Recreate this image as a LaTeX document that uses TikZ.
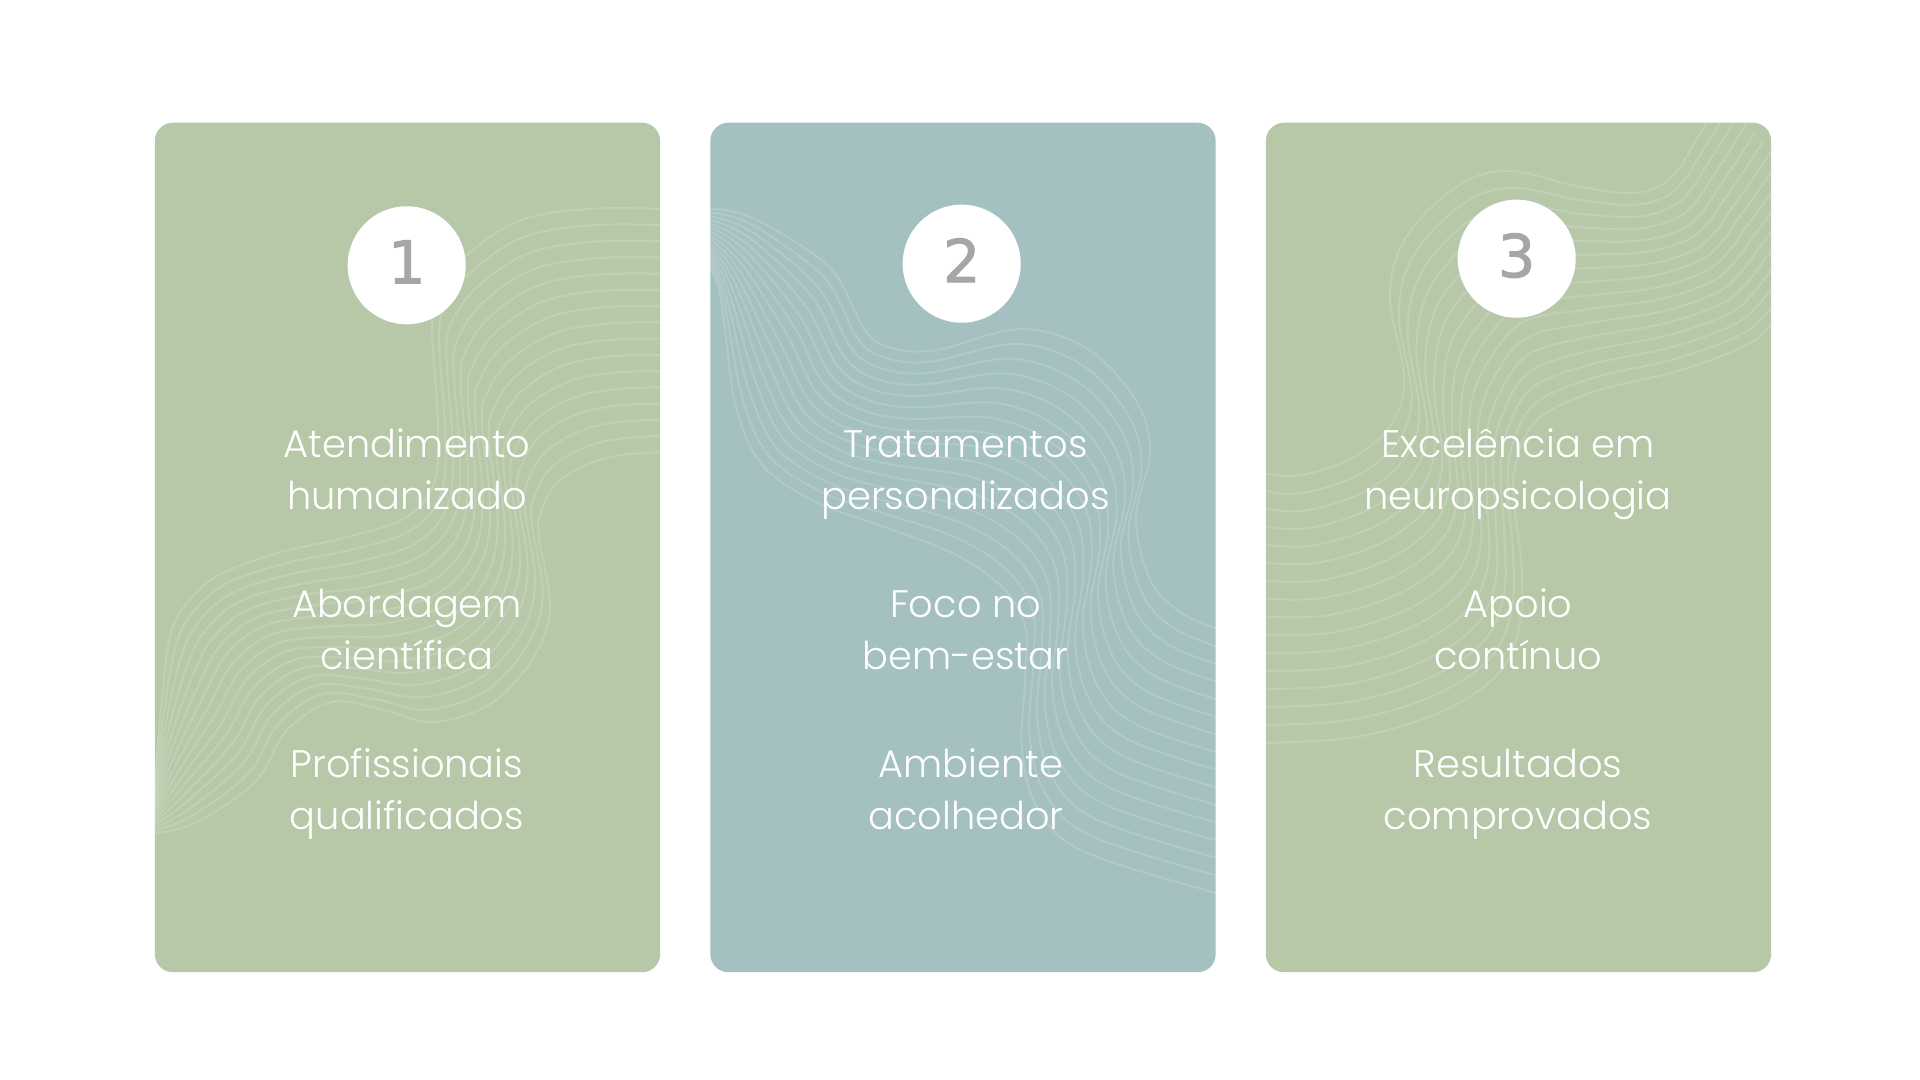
\documentclass[tikz,border=0pt]{standalone}
\usepackage{fontspec}
\setmainfont{Poppins}[UprightFont=* Light]
\newfontfamily\digitfont{DejaVu Sans}[FakeBold=1.6]
\usepackage{xcolor}
\usetikzlibrary{calc}
\definecolor{cardgreen}{RGB}{182, 200, 168}
\definecolor{cardteal}{RGB}{164, 192, 192}
\definecolor{digitgray}{RGB}{166, 166, 166}
\tikzset{
  cardbox/.style={minimum width=5.05cm,minimum height=8.49cm,rounded corners=0.18cm,inner sep=0pt},
  numdisc/.style={circle,fill=white,minimum size=1.18cm,inner sep=0pt,text depth=0.07cm,text=digitgray,font=\digitfont\fontsize{16.8}{16.8}\selectfont},
  itemtext/.style={align=center,text=white,anchor=base,inner sep=0pt,font=\fontsize{10.9}{14.75}\selectfont},
  waveline/.style={white,opacity=0.15,line width=0.02cm}
}
% one family of 16 lines between the curves (a1)...(an) and (b1)...(bn)
\newcommand{\wavefamily}[2]{%
  \begin{scope}
    \clip[rounded corners=0.18cm] (#2.south west) rectangle (#2.north east);
    \foreach \k in {0,...,15}{
      \pgfmathsetmacro\wavepos{\k/15}
      \gdef\wavepts{}
      \foreach \i in {1,...,#1}{\xdef\wavepts{\wavepts ($(a\i)!\wavepos!(b\i)$)}}
      \edef\wavecmd{\noexpand\draw[waveline] plot[smooth,tension=0.6] coordinates {\wavepts};}
      \wavecmd
    }
  \end{scope}}
\begin{document}
\begin{tikzpicture}[x=0.01cm,y=-0.01cm]
  \useasboundingbox (0,0) rectangle (1920,1080);

  \node[cardbox,fill=cardgreen] (card1) at (407.5,547.5) {};
  \node[cardbox,fill=cardteal] (card2) at (963,547.5) {};
  \node[cardbox,fill=cardgreen] (card3) at (1518.5,547.5) {};

  % card 1
  \foreach \i/\p/\q in {1/{153,800}/{153,833},2/{161,710}/{195,823},3/{170,637}/{255,782},4/{187,603}/{287,730},
    5/{219,575}/{333,702},6/{278,553}/{383,710},7/{347,537}/{433,722},8/{405,518}/{490,704},9/{434,483}/{532,660},
    10/{438,425}/{550,609},11/{432,323}/{539,537},12/{440,289}/{541,512},13/{467,255}/{557,483},14/{519,221}/{588,464},
    15/{588,209}/{622,455},16/{665,209}/{665,452}}{
    \coordinate (a\i) at (\p);
    \coordinate (b\i) at (\q);
  }
  \wavefamily{16}{card1}

  % card 2
  \foreach \i/\p/\q in {1/{708,209}/{708,262},2/{735,212}/{719,290},3/{772,228}/{725,330},4/{832,270}/{737,411},
    5/{865,330}/{764,467},6/{892,348}/{818,503},7/{937,350}/{870,522},8/{1021,329}/{950,552},9/{1089,350}/{1000,585},
    10/{1136,401}/{1025,625},11/{1150,452}/{1025,680},12/{1136,518}/{1022,750},13/{1150,579}/{1038,809},14/{1180,612}/{1085,852},15/{1220,630}/{1220,894}}{
    \coordinate (a\i) at (\p);
    \coordinate (b\i) at (\q);
  }
  \wavefamily{15}{card2}

  % card 3
  \foreach \i/\p/\q in {1/{1262,472}/{1262,743},2/{1296,476}/{1356,737},3/{1350,459}/{1441,712},4/{1390,426}/{1498,674},
    5/{1404,379}/{1519,628},6/{1390,295}/{1522,573},7/{1407,236}/{1515,510},8/{1458,186}/{1515,468},9/{1509,171}/{1536,421},
    10/{1576,186}/{1593,392},11/{1627,193}/{1678,371},12/{1658,187}/{1745,346},13/{1678,170}/{1771,325},14/{1692,147}/{1795,295},
    15/{1706,124}/{1820,265},16/{1722,95}/{1845,235}}{
    \coordinate (a\i) at (\p);
    \coordinate (b\i) at (\q);
  }
  \wavefamily{16}{card3}

  \node[numdisc] (num1) at (406.7,265.3) {1};
  \node[numdisc] (num2) at (961.7,263.7) {2};
  \node[numdisc] (num3) at (1516.7,258.7) {3};

  \node[itemtext] (item11) at (407,509.5) {Atendimento\\humanizado};
  \node[itemtext] (item12) at (407,669.5) {Abordagem\\científica};
  \node[itemtext] (item13) at (407,829.5) {Profissionais\\qualificados};

  \node[itemtext] (item21) at (965.5,509.5) {Tratamentos\\personalizados};
  \node[itemtext] (item22) at (965.5,669.5) {Foco no\\bem-estar};
  \node[itemtext] (item23) at (966,829.5) {\hspace*{0.1cm}Ambiente\\acolhedor};

  \node[itemtext] (item31) at (1518,509.5) {Excelência em\\neuropsicologia};
  \node[itemtext] (item32) at (1518,669.5) {Apoio\\contínuo};
  \node[itemtext] (item33) at (1518,829.5) {Resultados\\comprovados};
\end{tikzpicture}
\end{document}
